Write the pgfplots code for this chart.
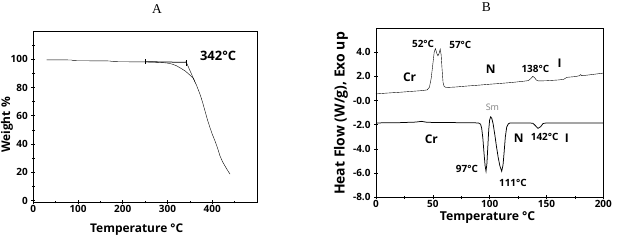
\documentclass[border=0pt]{standalone}
\usepackage{fontspec}
\setmainfont{Liberation Serif}
\newfontfamily\osans{Open Sans}
\usepackage{pgfplots}
\pgfplotsset{compat=1.18}
\pgfplotsset{panel/.style={
  scale only axis, anchor=south west, clip=false,
  axis line style={line width=0.7bp, black},
  tick pos=left, tick align=center,
  major tick length=4bp, minor tick length=2.5bp,
  every tick/.style={line width=0.6bp, black},
  tick label style={font=\osans\bfseries\fontsize{10}{12}\selectfont},
  xticklabel style={yshift=2.5bp},
  /pgf/number format/assume math mode=true,
  cycle list={{black, line width=0.75bp, no markers}},
}}
\begin{document}
\begin{tikzpicture}
\useasboundingbox (0,0) rectangle (626bp,246bp);
% ---------------- Panel A ----------------
\begin{axis}[panel, at={(33.3bp,44bp)}, width=223.7bp, height=171bp,
  xmin=0, xmax=500, ymin=-1, ymax=120,
  xtick={0,100,200,300,400}, minor xtick={50,150,250,350,450},
  ytick={0,20,40,60,80,100}, minor ytick={10,30,50,70,90,110}]
\addplot coordinates {
(30,99.6) (85,99.5) (90,99.0) (170,98.8) (180,98.3) (250,98.1) (270,97.9)
(290,97.6) (300,97.3) (310,96.6) (320,95.4) (330,93.6) (340,91.6) (350,88.8)
(357.5,86.5) (365,81.5) (372.5,75.3) (378,70) (383.7,63.5) (389,57.5)
(394.8,51.7) (400,47) (406,42.3) (412,37) (417.2,31.7) (423,27.5)
(428.4,24.5) (434,21.5) (439.6,18.8)};
\addplot coordinates {(250,98.3) (343,97.8)};
\addplot coordinates {(341,98.6) (362,83.5)};
\addplot coordinates {(250,96.8) (250,100)};
\addplot coordinates {(342,95.3) (342,99.4)};
\node[font=\osans\bfseries\fontsize{13}{15}\selectfont] at (axis cs:413,102.3) {342°C};
\node[font=\osans\bfseries\fontsize{12}{14}\selectfont] at (axis description cs:0.462,-0.164) {Temperature °C};
\node[font=\osans\bfseries\fontsize{12}{14}\selectfont, rotate=90] at (axis description cs:-0.118,0.45) {Weight \%};
\node[font=\fontsize{13.5}{15}\selectfont] at (axis description cs:0.553,1.13) {A};
\end{axis}
% ---------------- Panel B ----------------
\begin{axis}[panel, at={(376bp,48.7bp)}, width=227.3bp, height=169.3bp,
  xmin=0, xmax=200, ymin=-8, ymax=6,
  xtick={0,50,100,150,200}, minor xtick={25,75,125,175},
  ytick={-8,-6,-4,-2,0,2,4},
  yticklabels={-8.0,-6.0,-4.0,-2.0,-0.0,2.0,4.0}]
\addplot coordinates {
(0,0.55) (10,0.62) (20,0.68) (30,0.75) (40,0.82) (45,0.88) (47,1.1)
(48.5,1.8) (50,3.0) (51.2,4.0) (52.3,4.3) (53.5,3.9) (54.5,3.7) (55.5,3.9)
(56.5,4.25) (57.3,3.8) (58.2,2.5) (59,1.5) (60,1.15) (62,1.08) (70,1.12)
(80,1.2) (90,1.27) (100,1.35) (110,1.42) (120,1.5) (130,1.6) (134,1.65)
(136,1.8) (138,2.0) (139.5,1.9) (141,1.7) (143,1.62) (150,1.64) (160,1.7)
(165,1.75) (168,1.92) (175,1.98) (179,2.05) (180,2.15) (181,2.05) (190,2.15)
(200,2.27)};
\addplot coordinates {
(0,-1.85) (20,-1.83) (35,-1.78) (40,-1.72) (45,-1.80) (60,-1.82) (80,-1.83)
(90,-1.85) (92,-1.95) (93,-2.3) (94,-3.1) (95,-4.3) (96,-5.4) (96.8,-5.85)
(97.6,-5.2) (98.4,-3.8) (99.2,-2.4) (100,-1.6) (100.9,-1.35) (101.8,-1.45)
(103,-1.9) (104.5,-2.8) (106,-3.8) (107.5,-4.7) (109,-5.4) (110.6,-5.85)
(111.8,-5.3) (112.8,-4.2) (113.8,-3.0) (115,-2.2) (116.5,-1.92) (118,-1.85)
(130,-1.85) (138,-1.87) (140,-2.05) (142.5,-2.3) (145,-2.15) (147,-1.9)
(150,-1.85) (200,-1.85)};
\tikzset{ann/.style={font=\osans\bfseries\fontsize{10}{12}\selectfont, inner sep=0pt},
         big/.style={font=\osans\bfseries\fontsize{12}{14}\selectfont, inner sep=0pt}}
\node[ann] at (axis cs:41.4,4.70) {52°C};
\node[ann] at (axis cs:74.2,4.61) {57°C};
\node[big] at (axis cs:29.6,1.89) {Cr};
\node[big] at (axis cs:100.9,2.55) {N};
\node[ann] at (axis cs:140.2,2.63) {138°C};
\node[big] at (axis cs:161.6,3.05) {I};
\node[font=\osans\fontsize{9}{11}\selectfont, text=gray, inner sep=0pt] at (axis cs:102.4,-0.58) {Sm};
\node[big] at (axis cs:48.7,-3.22) {Cr};
\node[big] at (axis cs:125.5,-3.14) {N};
\node[ann] at (axis cs:148.4,-3.05) {142°C};
\node[big] at (axis cs:168,-3.14) {I};
\node[ann] at (axis cs:80,-5.69) {97°C};
\node[ann] at (axis cs:120.5,-6.8) {111°C};
\node[font=\osans\bfseries\fontsize{12.3}{14}\selectfont] at (axis description cs:0.491,-0.118) {Temperature °C};
\node[font=\osans\bfseries\fontsize{14}{16}\selectfont, rotate=90] at (axis description cs:-0.154,0.495) {Heat Flow (W/g), Exo up};
\node[font=\fontsize{13.5}{15}\selectfont] at (axis description cs:0.485,1.125) {B};
\end{axis}
\end{tikzpicture}
\end{document}
